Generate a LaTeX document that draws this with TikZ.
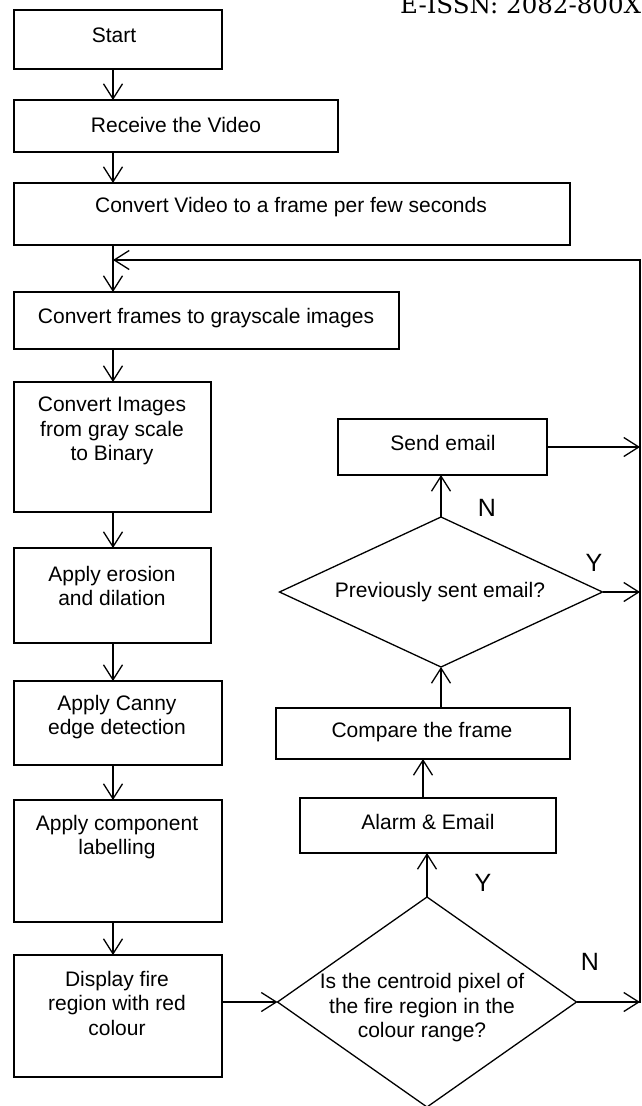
\documentclass[tikz,border=0pt]{standalone}
\usepackage{fontspec}
\setmainfont{Liberation Sans}
\newfontfamily\hdrfont{DejaVu Serif}
\usetikzlibrary{arrows.meta,shapes.geometric,calc}
\tikzset{
  box/.style={draw, line width=1.3pt, rectangle, inner sep=0pt, outer sep=0pt},
  dia/.style={draw, line width=1.3pt, diamond, inner sep=0pt, outer sep=0pt},
  txt/.style={align=center, inner sep=0pt, font=\fontsize{21}{24.5}\selectfont},
  lbl/.style={inner sep=0pt, font=\fontsize{25}{28}\selectfont},
  arr/.style={line width=1.3pt, -{Straight Barb[length=15pt,width=19pt,line width=1.3pt]}},
  ln/.style={line width=1.3pt}
}
\newcommand\mybox[5]{\node[box, minimum width={(#3-#1)*1pt}, minimum height={(#4-#2)*1pt}] (#5) at ({(#1+#3)/2},{(#2+#4)/2}) {};}
\begin{document}
\begin{tikzpicture}[x=1pt,y=-1pt]
\useasboundingbox (0,0) rectangle (642,1106);
\clip (0,0) rectangle (642,1106);
\fill[white] (0,0) rectangle (642,1106);
% header
\node[anchor=base west, inner sep=0pt, font=\hdrfont\fontsize{24.5}{28}\selectfont] (hdr) at (400,13) {E-ISSN: 2082-800X};
% left column boxes
\mybox{14}{10}{222}{69}{start}
\mybox{14}{100}{338}{152}{recv}
\mybox{14}{183}{570}{245}{vid}
\mybox{14}{292}{399}{349}{gray}
\mybox{14}{382}{211}{512}{bin}
\mybox{14}{548}{211}{643}{ero}
\mybox{14}{681}{222}{765}{canny}
\mybox{14}{800}{222}{922}{comp}
\mybox{14}{955}{222}{1077}{disp}
% texts
\node[txt] (tstart) at (114,35) {Start};
\node[txt] (trecv) at (176,125) {Receive the Video};
\node[txt] (tvid) at (291,207) {Convert Video to a frame per few seconds};
\node[txt] (tgray) at (206,318) {Convert frames to grayscale images};
\node[txt] (tbin) at (112,431) {Convert Images\\from gray scale\\to Binary};
\node[txt] (tero) at (112,586) {Apply erosion\\and dilation};
\node[txt] (tcanny) at (117,717) {Apply Canny\\edge detection};
\node[txt] (tcomp) at (117,837) {Apply component\\labelling};
\node[txt] (tdisp) at (117,1003) {Display fire\\region with red\\colour};
% right column
\node[dia, minimum width=299pt, minimum height=210pt] (dia1) at (427,1002) {};
\node[txt] (tdia1) at (422,1008) {Is the centroid pixel of\\the fire region in the\\colour range?};
\mybox{300}{798}{556}{853}{alarm}
\node[txt] (talarm) at (428,822) {Alarm \& Email};
\mybox{276}{708}{570}{759}{cmp}
\node[txt] (tcmp) at (422,732) {Compare the frame};
\node[dia, minimum width=323pt, minimum height=150pt] (dia2) at (441,592) {};
\node[txt] (tdia2) at (440,592) {Previously sent email?};
\mybox{338}{419}{547}{475}{send}
\node[txt] (tsend) at (443,443) {Send email};
% labels
\node[lbl] (n2) at (487,508) {N};
\node[lbl] (y2) at (594,563) {Y};
\node[lbl] (y1) at (483,883) {Y};
\node[lbl] (n1) at (590,962) {N};
% coordinates
\coordinate (colx) at (113,0);
\coordinate (loopR) at (640,260);
\coordinate (loopB) at (640,1003);
% left arrows
\draw[arr] (start.south -| colx) -- (recv.north -| colx);
\draw[arr] (recv.south -| colx) -- (vid.north -| colx);
\draw[arr] (vid.south -| colx) -- (gray.north -| colx);
\draw[arr] (gray.south -| colx) -- (bin.north -| colx);
\draw[arr] (bin.south -| colx) -- (ero.north -| colx);
\draw[arr] (ero.south -| colx) -- (canny.north -| colx);
\draw[arr] (canny.south -| colx) -- (comp.north -| colx);
\draw[arr] (comp.south -| colx) -- (disp.north -| colx);
% loop
\draw[arr] (loopB) -- (loopR) -- (colx |- loopR);
% display to diamond
\draw[arr] (disp.east |- dia1.west) -- (dia1.west);
\draw[arr] (dia1.east) -- (dia1.east -| loopR);
\draw[arr] (dia1.north) -- (dia1.north |- alarm.south);
\draw[arr] ([xshift=-5pt]alarm.north) -- ([xshift=-5pt]alarm.north |- cmp.south);
\draw[arr] (dia2.south |- cmp.north) -- (dia2.south);
\draw[arr] (dia2.north) -- (dia2.north |- send.south);
\draw[arr] (dia2.east) -- (dia2.east -| loopR);
\draw[arr] (send.east) -- (send.east -| loopR);
\end{tikzpicture}
\end{document}
